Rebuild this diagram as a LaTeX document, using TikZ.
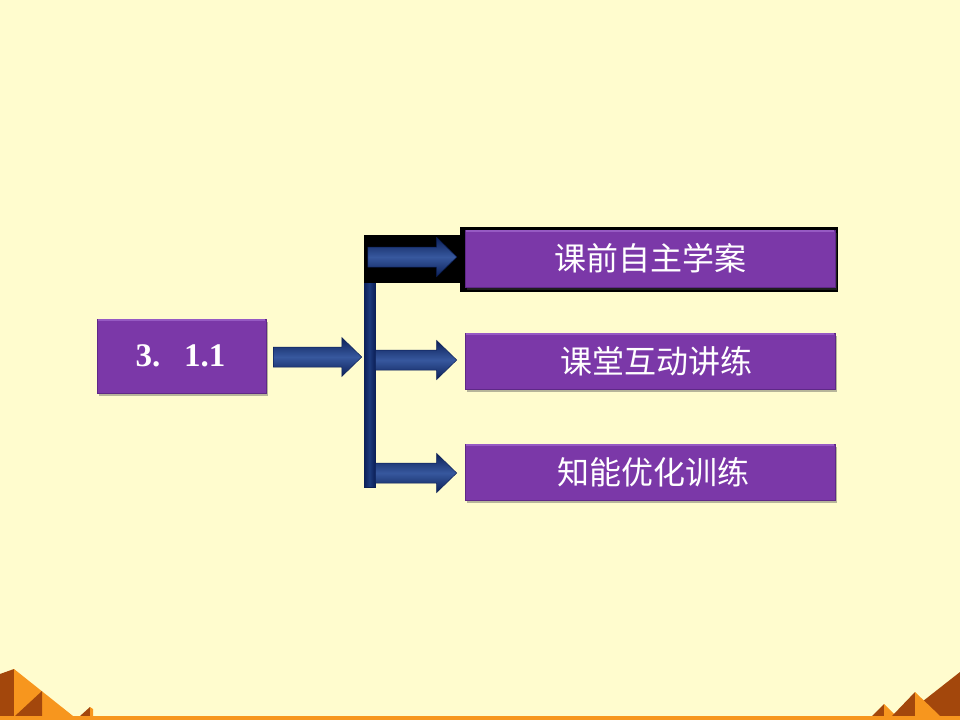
\documentclass[tikz,border=0pt]{standalone}
\usepackage{fontspec}
\setmainfont{Liberation Serif}
\newfontfamily\cjk{Noto Sans CJK SC}
\usetikzlibrary{shadows,calc}
\definecolor{bg}{RGB}{255,252,206}
\definecolor{purp}{RGB}{123,56,168}
\definecolor{purplight}{RGB}{150,90,195}
\definecolor{purpdark}{RGB}{95,40,135}
\definecolor{navy}{RGB}{28,58,124}
\definecolor{navylight}{RGB}{55,88,158}
\definecolor{navydark}{RGB}{12,32,88}
\definecolor{pyrorange}{RGB}{247,150,30}
\definecolor{pyrbrown}{RGB}{163,71,12}
\newcommand\navyarrow[2]{%
  \shade[arrowshade] ($(#1)+(0,-10)$) -- ($(#2)+(-20,-10)$) -- ($(#2)+(-20,-19.5)$) -- (#2)
    -- ($(#2)+(-20,19.5)$) -- ($(#2)+(-20,10)$) -- ($(#1)+(0,10)$) -- cycle;}
\begin{document}
\begin{tikzpicture}[x=1pt,y=-1pt,
  pbox/.style={fill=purp, draw=purpdark, line width=0.6pt, inner sep=0pt,
    drop shadow={shadow xshift=2pt,shadow yshift=-3pt,opacity=0.4,fill=black!70},
    text=white},
  cjktext/.style={font=\cjk\fontsize{32}{36}\selectfont},
  arrowshade/.style={top color=navydark, bottom color=navydark, middle color=navylight, draw=navydark, line width=0.5pt},
  barshade/.style={left color=navydark, right color=navydark, middle color=navy, draw=navydark, line width=0.5pt}
]
\useasboundingbox (0,0) rectangle (960,720);
\fill[bg] (0,0) rectangle (960,720);

% boxes
\node[pbox, minimum width=169pt, minimum height=74pt,
      font=\bfseries\fontsize{33}{36}\selectfont] (src) at (181.5,356) {\hspace*{-2pt}3.\kern0.72em1.1};

\node[shade, barshade, minimum width=11pt, minimum height=252pt, inner sep=0pt] (bar) at (369.5,361) {};

\fill[black] (364,235) rectangle (460,283);
\fill[black] (460,227) rectangle (838,292);

\node[pbox, cjktext, minimum width=370pt, minimum height=57pt] (b1) at (650,258.5) {课前自主学案};
\node[pbox, cjktext, minimum width=370pt, minimum height=56pt] (b2) at (650,361) {\hspace*{12pt}课堂互动讲练};
\node[pbox, cjktext, minimum width=370pt, minimum height=56pt] (b3) at (650,472) {\hspace*{6pt}知能优化训练};

% top highlight on boxes
\foreach \n in {src,b1,b2,b3}{
  \draw[purplight, line width=1.2pt] ($(\n.north west)+(1,1.2)$) -- ($(\n.north east)+(-1,1.2)$);
}

% arrows
\coordinate (a0s) at ($(src.east)+(7,1)$);
\coordinate (a0t) at ($(bar.west |- a0s)+(-2,0)$);
\navyarrow{a0s}{a0t}
\coordinate (a1s) at ($(bar.west |- b1.west)+(4,-1.5)$);
\coordinate (a1t) at ($(b1.west)+(-8,-1.5)$);
\navyarrow{a1s}{a1t}
\coordinate (a2s) at ($(bar.east |- b2.west)+(0,-1)$);
\coordinate (a2t) at ($(b2.west)+(-8,-1)$);
\navyarrow{a2s}{a2t}
\coordinate (a3s) at ($(bar.east |- b3.west)+(0,1)$);
\coordinate (a3t) at ($(b3.west)+(-8,1)$);
\navyarrow{a3s}{a3t}

% bottom decoration
\fill[pyrbrown] (0,674) -- (14,669) -- (14,716) -- (0,716) -- cycle;
\fill[pyrorange] (14,669) -- (73,716) -- (14,716) -- cycle;
\fill[pyrbrown] (15,716) -- (42,691) -- (42,716) -- cycle;
\fill[pyrbrown] (80,716) -- (90,707) -- (90,716) -- cycle;
\fill[pyrorange] (90,707) -- (93,709) -- (93,716) -- (90,716) -- cycle;

\fill[pyrbrown] (960,672) -- (904,716) -- (960,716) -- cycle;
\fill[pyrbrown] (872,716) -- (884,704) -- (884,716) -- cycle;
\fill[pyrorange] (884,704) -- (896,716) -- (884,716) -- cycle;
\fill[pyrbrown] (892,716) -- (915,692) -- (915,716) -- cycle;
\fill[pyrorange] (915,692) -- (940,716) -- (915,716) -- cycle;

\fill[pyrorange] (0,716) rectangle (960,720);
\end{tikzpicture}
\end{document}
